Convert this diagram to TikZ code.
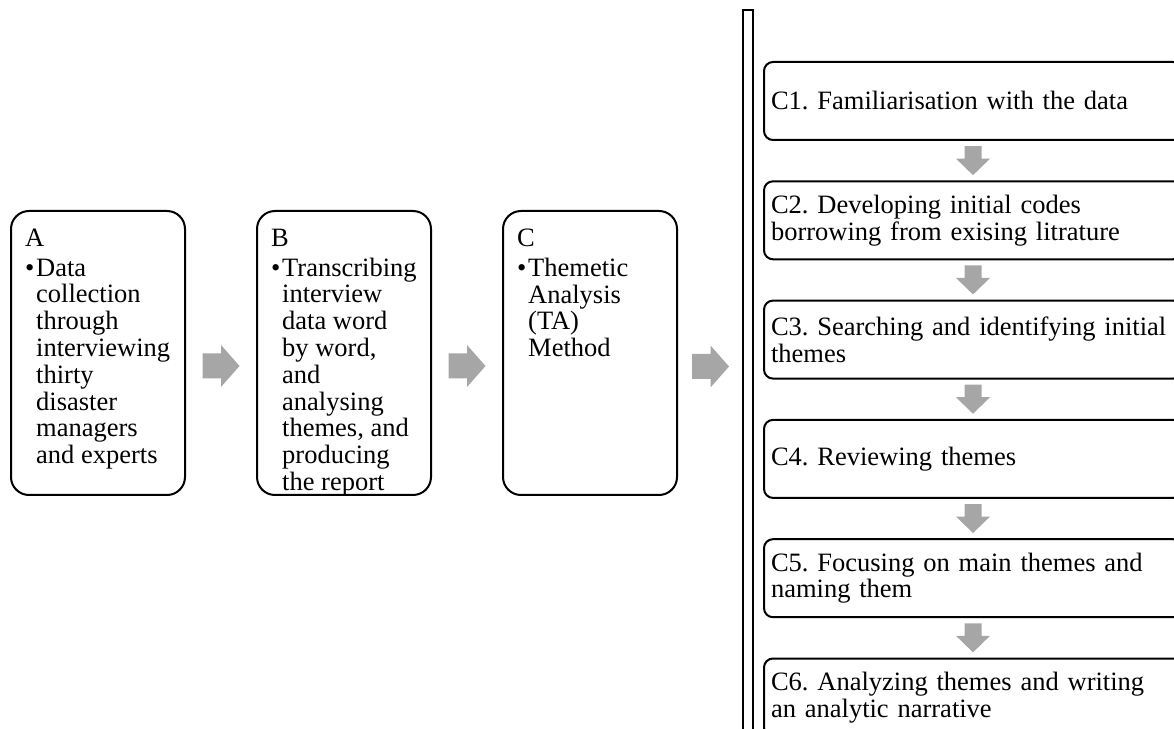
\documentclass[tikz,border=0pt]{standalone}
\usepackage{fontspec}
\setmainfont{Liberation Serif}
\usepackage{xcolor}
\definecolor{arrow-gray}{HTML}{A6A6A6}
\usepackage{tikz}
\usetikzlibrary{positioning}
\usetikzlibrary{calc}
\tikzset{stage/.style = {draw, line width=2pt, rounded corners=18pt, minimum width=174pt, minimum height=284pt}}
\tikzset{stagetext/.style = {anchor=north west, inner sep=0pt, align=left}}
\tikzset{substage/.style = {draw, line width=2pt, rounded corners=9pt, minimum width=418pt, minimum height=78pt, text width=404pt, inner xsep=7pt, inner ysep=0pt, align=left}}
\tikzset{rarr/.pic = {\fill[arrow-gray] (-18.5,-12.5) -- (0,-12.5) -- (0,-21) -- (18.5,0) -- (0,21) -- (0,12.5) -- (-18.5,12.5) -- cycle;}}
\tikzset{darr/.pic = {\fill[arrow-gray] (-8.5,14.5) -- (-8.5,2) -- (-17,2) -- (0,-14.5) -- (17,2) -- (8.5,2) -- (8.5,14.5) -- cycle;}}
\newcommand{\bul}{\makebox[11pt][l]{\textbullet}}
\newcommand{\ind}{\hspace*{11pt}}
\frenchspacing

\begin{document}
\begin{tikzpicture}[x=1pt, y=1pt,
  node distance = 70pt,
  font=\fontsize{26.5}{26.8}\selectfont
]
\useasboundingbox (0,0) rectangle (1174,728);
\clip (0,0) rectangle (1174,728);

\node[stage, anchor=south west] (a) at (10,232) {};
\node[stage, right=of a] (b) {};
\node[stage, right=of b] (c) {};

\node[stagetext] (a-txt) at ([xshift=15pt, yshift=-18.5pt]a.north west) {A\\[3.2pt]
  \bul Data\\\ind collection\\\ind through\\\ind interviewing\\\ind thirty\\\ind disaster\\\ind managers\\\ind and experts};
\node[stagetext] (b-txt) at ([xshift=15pt, yshift=-18.5pt]b.north west) {B\\[3.2pt]
  \bul Transcribing\\\ind interview\\\ind data word\\\ind by word,\\\ind and\\\ind analysing\\\ind themes, and\\\ind producing\\\ind the report};
\node[stagetext] (c-txt) at ([xshift=15pt, yshift=-18.5pt]c.north west) {C\\[3.2pt]
  \bul Themetic\\\ind Analysis\\\ind (TA)\\\ind Method};

% double rule in front of the TA steps
\draw[line width=2pt] (743,-10) rectangle (753,718);
\coordinate (rule) at (743,374);

\node[substage, anchor=north west] (c1) at (763,667) {C1. Familiarisation with the data};
\node[substage, below=39.3pt of c1] (c2) {C2. Developing initial codes\\borrowing from exising litrature};
\node[substage, below=39.3pt of c2] (c3) {C3. Searching and identifying initial\\themes};
\node[substage, below=39.3pt of c3] (c4) {C4. Reviewing themes};
\node[substage, below=39.3pt of c4] (c5) {C5. Focusing on main themes and\\naming them};
\node[substage, below=39.3pt of c5] (c6) {C6. Analyzing themes and writing\\an analytic narrative};

\pic at ($(a.east)!.5!(b.west)+(0,-13)$) {rarr};
\pic at ($(b.east)!.5!(c.west)+(0,-13)$) {rarr};
\pic at ($(c.east)!.5!(rule)+(0,-13)$) {rarr};
\foreach \i/\j in {c1/c2, c2/c3, c3/c4, c4/c5, c5/c6}
  \pic at ($(\i.south)!.5!(\j.north)$) {darr};

\end{tikzpicture}
\end{document}
